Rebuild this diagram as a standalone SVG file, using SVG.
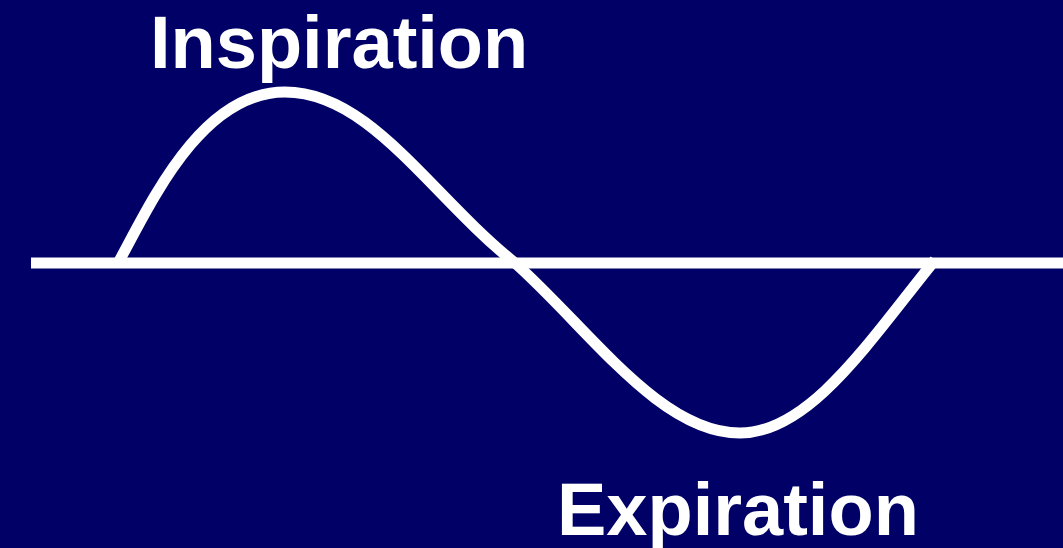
<svg xmlns="http://www.w3.org/2000/svg" width="1063" height="548" viewBox="0 0 1063 548">
<style>
.lbl{font-family:"Liberation Sans",Arial,sans-serif;font-weight:bold;font-size:74px;fill:#ffffff}
.ln{fill:none;stroke:#ffffff;stroke-width:11}
</style>
<rect width="1063" height="548" fill="#000066"/>
<g id="connectors">
<line class="ln" x1="31" y1="263" x2="1063" y2="263"/>
<path class="ln" d="M117,265 C150,205 200,92 285,92 C370,92 430,195 515,263 C590,330 660,433 740,433 C810,433 870,340 935,260"/>
</g>
<g id="inspiration"><text class="lbl" x="150" y="68">Inspiration</text></g>
<g id="expiration"><text class="lbl" x="557" y="535">Expiration</text></g>
</svg>
